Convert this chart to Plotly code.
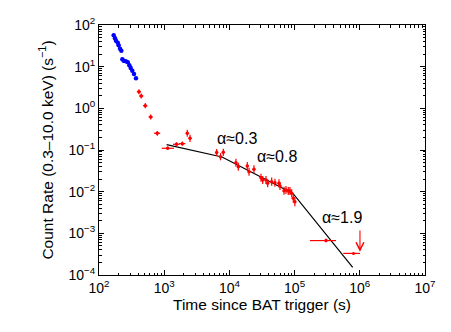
import math
import plotly.graph_objects as go

# Swift/XRT light curve
blue_t = [168, 176, 182, 194, 200, 210, 220, 228, 239, 257, 276, 292, 306, 324, 344, 369]
blue_rate = [56.6, 48, 42, 37.6, 32.6, 27, 24.2, 15, 13.9, 13.5, 12.7, 10.8, 9.3, 8.0, 6.7, 5.3]

red_t = [410, 445, 513, 621, 783, 1130, 1545, 1897, 2260, 2490,
         6380, 7310, 8060, 12600, 13700, 18800, 20000, 23800, 30500, 32400,
         36400, 38600, 44500, 50000, 57600, 59700, 68800, 73800, 80000, 84900,
         90200, 95500, 101000, 303000]
red_rate = [2.50, 1.98, 1.16, 0.62, 0.252, 0.110, 0.137, 0.142, 0.252, 0.191,
            0.087, 0.069, 0.088, 0.0496, 0.0397, 0.0413, 0.0301, 0.0344, 0.0216, 0.019,
            0.019, 0.0159, 0.0174, 0.0164, 0.0159, 0.0137, 0.0105, 0.011, 0.0104, 0.0104,
            0.00914, 0.00693, 0.00575, 6.7e-4]
# time errors (s), minus / plus
red_t_minus = [30, 33, 38, 46, 85, 214, 180, 220, 110, 120,
               300, 350, 380, 550, 600, 800, 850, 1000, 1300, 1400,
               1500, 1600, 1800, 2000, 2300, 2400, 2700, 2900, 3100, 3300,
               3500, 3700, 3900, 131000]
red_t_plus = [30, 33, 38, 46, 85, 283, 180, 220, 110, 120,
              300, 350, 380, 550, 600, 800, 850, 1000, 1300, 1400,
              1500, 1600, 1800, 2000, 2300, 2400, 2700, 2900, 3100, 3300,
              3500, 3700, 3900, 128000]
# rate errors as fraction of the rate
red_rate_frac = [0.15, 0.15, 0.15, 0.15, 0.14, 0.1, 0.12, 0.12, 0.22, 0.22,
                 0.22, 0.22, 0.22, 0.25, 0.25, 0.25, 0.25, 0.25, 0.25, 0.25,
                 0.25, 0.25, 0.25, 0.25, 0.25, 0.25, 0.25, 0.25, 0.25, 0.25,
                 0.25, 0.28, 0.28, 0.1]

# upper limit
ul_t = 800000
ul_t_lo = 558000
ul_t_hi = 1006000
ul_rate = 3.3e-4
ul_arrow_tip = 3.6e-4
ul_arrow_top = 1.27e-3

# broken power-law model
model_t = [1090, 7700, 94400, 778000]
model_rate = [0.134, 0.068, 0.00904, 1.53e-4]

x_decades = [2, 3, 4, 5, 6, 7]
y_decades = [-4, -3, -2, -1, 0, 1, 2]


def sup(e):
    s = str(e).replace("-", "\u2212")
    return "10<sup>%s</sup>" % s


def minor_vals(lo, hi):
    out = []
    for d in range(lo, hi):
        for k in range(2, 10):
            out.append(k * 10.0 ** d)
    return out


FONT = "Liberation Sans, Arial, Helvetica, sans-serif"

fig = go.Figure()

fig.add_trace(go.Scatter(
    x=model_t, y=model_rate, mode="lines",
    line=dict(color="black", width=1.2), showlegend=False,
))

fig.add_trace(go.Scatter(
    x=blue_t, y=blue_rate, mode="markers",
    marker=dict(color="#0000ff", size=4.5), showlegend=False,
))

fig.add_trace(go.Scatter(
    x=red_t, y=red_rate, mode="markers",
    marker=dict(color="#ff0000", size=3.5),
    error_x=dict(type="data", symmetric=False, array=red_t_plus, arrayminus=red_t_minus,
                 color="#ff0000", thickness=1.2, width=0),
    error_y=dict(type="data", symmetric=False,
                 array=[r * f for r, f in zip(red_rate, red_rate_frac)],
                 arrayminus=[r * f / (1 + f) for r, f in zip(red_rate, red_rate_frac)],
                 color="#ff0000", thickness=1.2, width=0),
    showlegend=False,
))

fig.add_trace(go.Scatter(
    x=[ul_t], y=[ul_rate], mode="markers",
    marker=dict(color="#ff0000", size=3),
    error_x=dict(type="data", symmetric=False, array=[ul_t_hi - ul_t],
                 arrayminus=[ul_t - ul_t_lo], color="#ff0000", thickness=1.2, width=0),
    showlegend=False,
))

fig.add_annotation(
    x=math.log10(ul_t_hi), y=math.log10(ul_arrow_tip), xref="x", yref="y",
    ax=math.log10(ul_t_hi), ay=math.log10(ul_arrow_top), axref="x", ayref="y",
    text="", showarrow=True, arrowhead=5, arrowsize=1.4, arrowwidth=1.1,
    arrowcolor="#ff0000",
)

for txt, tx, ty in [("\u03b1\u22480.3", 13100, 0.194),
                    ("\u03b1\u22480.8", 53700, 0.068),
                    ("\u03b1\u22481.9", 527000, 0.0024)]:
    fig.add_annotation(x=math.log10(tx), y=math.log10(ty), text=txt, showarrow=False,
                       font=dict(family=FONT, size=16, color="black"))

axis_common = dict(
    type="log", showline=True, linecolor="black", linewidth=1, mirror="allticks",
    ticks="inside", ticklen=5, tickcolor="black", showgrid=False, zeroline=False,
    automargin=False,
    tickfont=dict(family=FONT, size=14, color="black"),
)

fig.update_xaxes(
    range=[2, 7], tickvals=[10.0 ** d for d in x_decades],
    ticktext=[sup(d) for d in x_decades],
    minor=dict(tickvals=minor_vals(2, 7), ticks="inside", ticklen=2.5, tickcolor="black",
               showgrid=False),
    title=dict(text="Time since BAT trigger (s)", standoff=0,
               font=dict(family=FONT, size=15.5, color="black")),
    **axis_common,
)
fig.update_yaxes(
    range=[-4, 2], tickvals=[10.0 ** d for d in y_decades],
    ticktext=[sup(d) for d in y_decades],
    minor=dict(tickvals=minor_vals(-4, 2), ticks="inside", ticklen=2.5, tickcolor="black",
               showgrid=False),
    title=dict(text="Count Rate (0.3\u201310.0 keV) (s<sup>\u22121</sup>)", standoff=11,
               font=dict(family=FONT, size=15.5, color="black")),
    **axis_common,
)

# the page body adds an 8 px offset, so the figure is 443x324 inside it
fig.update_layout(
    width=443, height=324,
    margin=dict(l=91, r=26, t=17, b=57),
    paper_bgcolor="white", plot_bgcolor="white",
    font=dict(family=FONT, color="black"),
)

fig.write_html("out.html")
